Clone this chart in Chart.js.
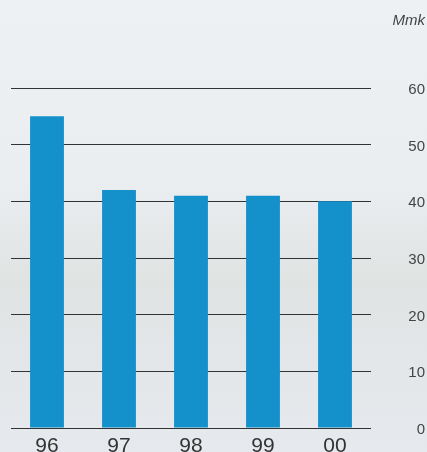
<!DOCTYPE html>
<html>
<head>
<meta charset="utf-8">
<script src="https://cdn.jsdelivr.net/npm/chart.js@4"></script>
<style>
  html, body { margin: 0; padding: 0; }
  body {
    width: 427px; height: 452px; overflow: hidden; position: relative;
    background: linear-gradient(to bottom, #eef1f4 0%, #eaeef1 40%, #dfe3e2 62%, #e2e6e8 76%, #e6eaee 100%);
  }
  #wrap { position: absolute; left: 0; top: 0; width: 427px; height: 452px; }
  #unit {
    position: absolute; right: 2px; top: 11px;
    font: italic 15px "Liberation Sans", Arial, sans-serif; color: #444;
  }
</style>
</head>
<body>
<div id="wrap"><canvas id="costChart"></canvas></div>
<div id="unit">Mmk</div>
<script>
const years = ['96', '97', '98', '99', '00'];
const costs = [55, 42, 41, 41, 40];
const yTicks = [0, 10, 20, 30, 40, 50, 60];

const ctx = document.getElementById('costChart').getContext('2d');
new Chart(ctx, {
    type: 'bar',
    data: {
        labels: years,
        datasets: [{
            data: costs,
            backgroundColor: '#1490cb',
            categoryPercentage: 1,
            barPercentage: 0.47
        }]
    },
    options: {
        responsive: true,
        maintainAspectRatio: false,
        animation: false,
        layout: { padding: { top: 88, left: 11, right: 2, bottom: 0 } },
        plugins: {
            legend: { display: false },
            tooltip: { enabled: false }
        },
        scales: {
            x: {
                grid: { display: false, drawTicks: false },
                border: { display: false },
                ticks: {
                    padding: 6,
                    color: '#333',
                    font: { family: 'Liberation Sans', size: 21 }
                },
                afterFit: (scale) => { scale.height = 24; }
            },
            y: {
                position: 'right',
                min: 0,
                max: 60,
                afterBuildTicks: (scale) => {
                    scale.ticks = yTicks.map(v => ({ value: v }));
                },
                grid: { color: '#333', lineWidth: 1, drawTicks: false },
                border: { display: false },
                ticks: {
                    crossAlign: 'far',
                    padding: 0,
                    labelOffset: 2,
                    color: '#444',
                    font: { family: 'Liberation Sans', size: 15 }
                },
                afterFit: (scale) => { scale.width = 54; }
            }
        }
    }
});
</script>
</body>
</html>
